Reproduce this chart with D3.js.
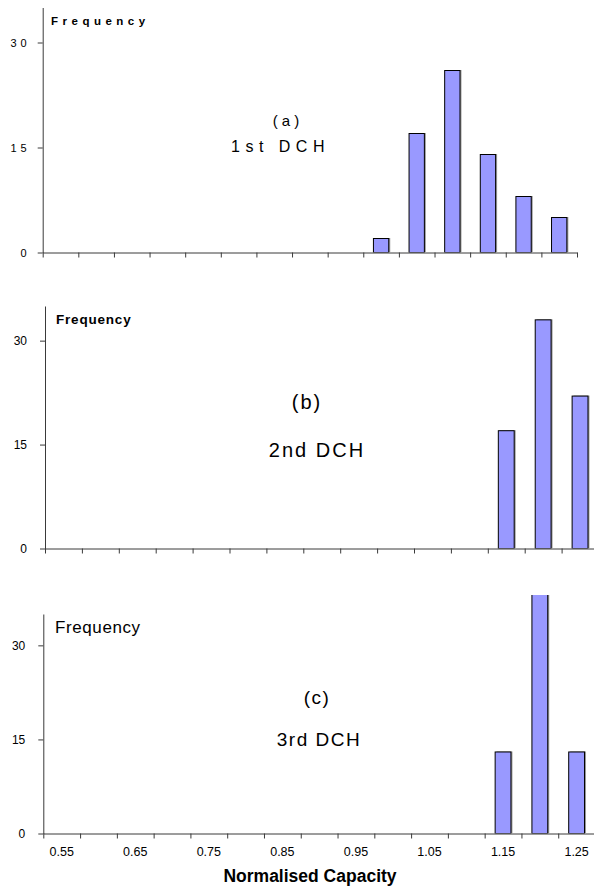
<!DOCTYPE html>
<html>
<head>
<meta charset="utf-8">
<script src="https://cdn.jsdelivr.net/npm/d3@7"></script>
<style>
  body { margin: 0; background: #fff; }
  svg { display: block; font-family: "Liberation Sans", Arial, sans-serif; }
</style>
</head>
<body>
<script>
const width = 594;
const height = 894;

// bins of normalised capacity (0.05 wide)
const bins = ['0.55', '0.60', '0.65', '0.70', '0.75', '0.80', '0.85', '0.90',
              '0.95', '1.00', '1.05', '1.10', '1.15', '1.20', '1.25'];
const xLabels = ['0.55', '0.65', '0.75', '0.85', '0.95', '1.05', '1.15', '1.25'];
const yTicks = [0, 15, 30];

const freq1st = [0, 0, 0, 0, 0, 0, 0, 0, 0, 2, 17, 26, 14, 8, 5];
const freq2nd = [0, 0, 0, 0, 0, 0, 0, 0, 0, 0, 0, 0, 17, 33, 22];
const freq3rd = [0, 0, 0, 0, 0, 0, 0, 0, 0, 0, 0, 0, 13, 46, 13];

const panels = [
  {
    id: 'a', values: freq1st, x0: 42.7, x1: 577, base: 252.5, top: 7.5, clipTop: 0,
    tickFont: 11, tickSpacing: 4, tickPad: 7,
    freq: {x: 51, y: 25, size: 11.5, weight: 'bold', spacing: 4.5},
    notes: [
      {text: '(a)', x: 288, y: 126, size: 15, spacing: 4},
      {text: '1st DCH', x: 280.5, y: 152, size: 16, spacing: 5.5}
    ]
  },
  {
    id: 'b', values: freq2nd, x0: 45, x1: 598.5, base: 548.5, top: 306, clipTop: 300,
    tickFont: 12, tickSpacing: 0, tickPad: 13,
    freq: {x: 56, y: 324, size: 13.5, weight: 'bold', spacing: 0.8},
    notes: [
      {text: '(b)', x: 307, y: 409, size: 20, spacing: 2},
      {text: '2nd DCH', x: 317, y: 457, size: 20, spacing: 2}
    ]
  },
  {
    id: 'c', values: freq3rd, x0: 43.3, x1: 595, base: 833.5, top: 614, clipTop: 595,
    tickFont: 12, tickSpacing: 0, tickPad: 13,
    freq: {x: 55, y: 632.7, size: 17, weight: 'normal', spacing: 0.6},
    notes: [
      {text: '(c)', x: 317, y: 704, size: 19, spacing: 1.5},
      {text: '3rd DCH', x: 319, y: 745.5, size: 19, spacing: 1.5}
    ]
  }
];

const svg = d3.select('body').append('svg')
    .attr('width', width)
    .attr('height', height);

const defs = svg.append('defs');

panels.forEach((p, pi) => {
    const x = d3.scaleBand().domain(bins).range([p.x0, p.x1])
        .paddingInner(0.57).paddingOuter(0.285);
    const xEdge = d3.scaleLinear().domain([0, bins.length]).range([p.x0, p.x1]);
    const y = d3.scaleLinear().domain([0, 35]).range([p.base, p.top]);

    const g = svg.append('g').classed('panel-' + p.id, true);

    defs.append('clipPath').attr('id', 'clip-' + p.id)
        .append('rect')
        .attr('x', p.x0).attr('y', p.clipTop)
        .attr('width', p.x1 - p.x0).attr('height', p.base - p.clipTop);

    const data = bins.map((b, i) => ({bin: b, v: p.values[i]})).filter(d => d.v > 0);

    const bars = g.append('g').attr('clip-path', `url(#clip-${p.id})`);
    // soft grey shadow like the spreadsheet export
    bars.selectAll('rect.shadow')
        .data(data)
        .enter().append('rect')
        .classed('shadow', true)
        .attr('x', d => x(d.bin) + 1.5)
        .attr('y', d => y(d.v) - 0.5)
        .attr('width', x.bandwidth())
        .attr('height', d => y(0) - y(d.v))
        .attr('fill', '#9a9a9a');
    bars.selectAll('rect.bar')
        .data(data)
        .enter().append('rect')
        .classed('bar', true)
        .attr('x', d => x(d.bin))
        .attr('y', d => y(d.v))
        .attr('width', x.bandwidth())
        .attr('height', d => y(0) - y(d.v))
        .attr('fill', '#9999ff')
        .attr('stroke', '#000')
        .attr('stroke-width', 1);

    // x axis: tick marks on bin edges
    const xAxis = g.append('g')
        .attr('transform', `translate(0,${p.base})`)
        .call(d3.axisBottom(xEdge).tickValues(d3.range(bins.length + 1))
            .tickFormat('').tickSize(5).tickSizeOuter(0));
    xAxis.selectAll('path, line').attr('stroke', '#3a3a3a');

    // y axis
    const yAxis = g.append('g')
        .attr('transform', `translate(${p.x0},0)`)
        .call(d3.axisLeft(y).tickValues(yTicks).tickSize(5)
            .tickSizeOuter(0).tickPadding(p.tickPad));
    yAxis.selectAll('path, line').attr('stroke', '#3a3a3a');
    yAxis.selectAll('text')
        .attr('font-size', p.tickFont)
        .attr('font-family', '"Liberation Sans", Arial, sans-serif')
        .attr('letter-spacing', p.tickSpacing)
        .attr('fill', '#000');

    // axis title
    g.append('text')
        .attr('x', p.freq.x).attr('y', p.freq.y)
        .attr('font-size', p.freq.size)
        .attr('font-weight', p.freq.weight)
        .attr('letter-spacing', p.freq.spacing)
        .text('Frequency');

    g.selectAll('text.note')
        .data(p.notes)
        .enter().append('text')
        .classed('note', true)
        .attr('x', d => d.x).attr('y', d => d.y)
        .attr('text-anchor', 'middle')
        .attr('font-size', d => d.size)
        .attr('letter-spacing', d => d.spacing)
        .text(d => d.text);

    // category labels under the last panel only
    if (pi === panels.length - 1) {
        const lab = g.append('g')
            .attr('transform', `translate(0,${p.base})`)
            .call(d3.axisBottom(x).tickValues(xLabels).tickSize(0).tickPadding(14));
        lab.select('.domain').remove();
        lab.selectAll('text')
            .attr('font-size', 12.5)
            .attr('font-family', '"Liberation Sans", Arial, sans-serif')
            .attr('fill', '#000');

        svg.append('text')
            .attr('x', 310).attr('y', 882)
            .attr('text-anchor', 'middle')
            .attr('font-size', 17.5)
            .attr('font-weight', 'bold')
            .text('Normalised Capacity');
    }
});
</script>
</body>
</html>
